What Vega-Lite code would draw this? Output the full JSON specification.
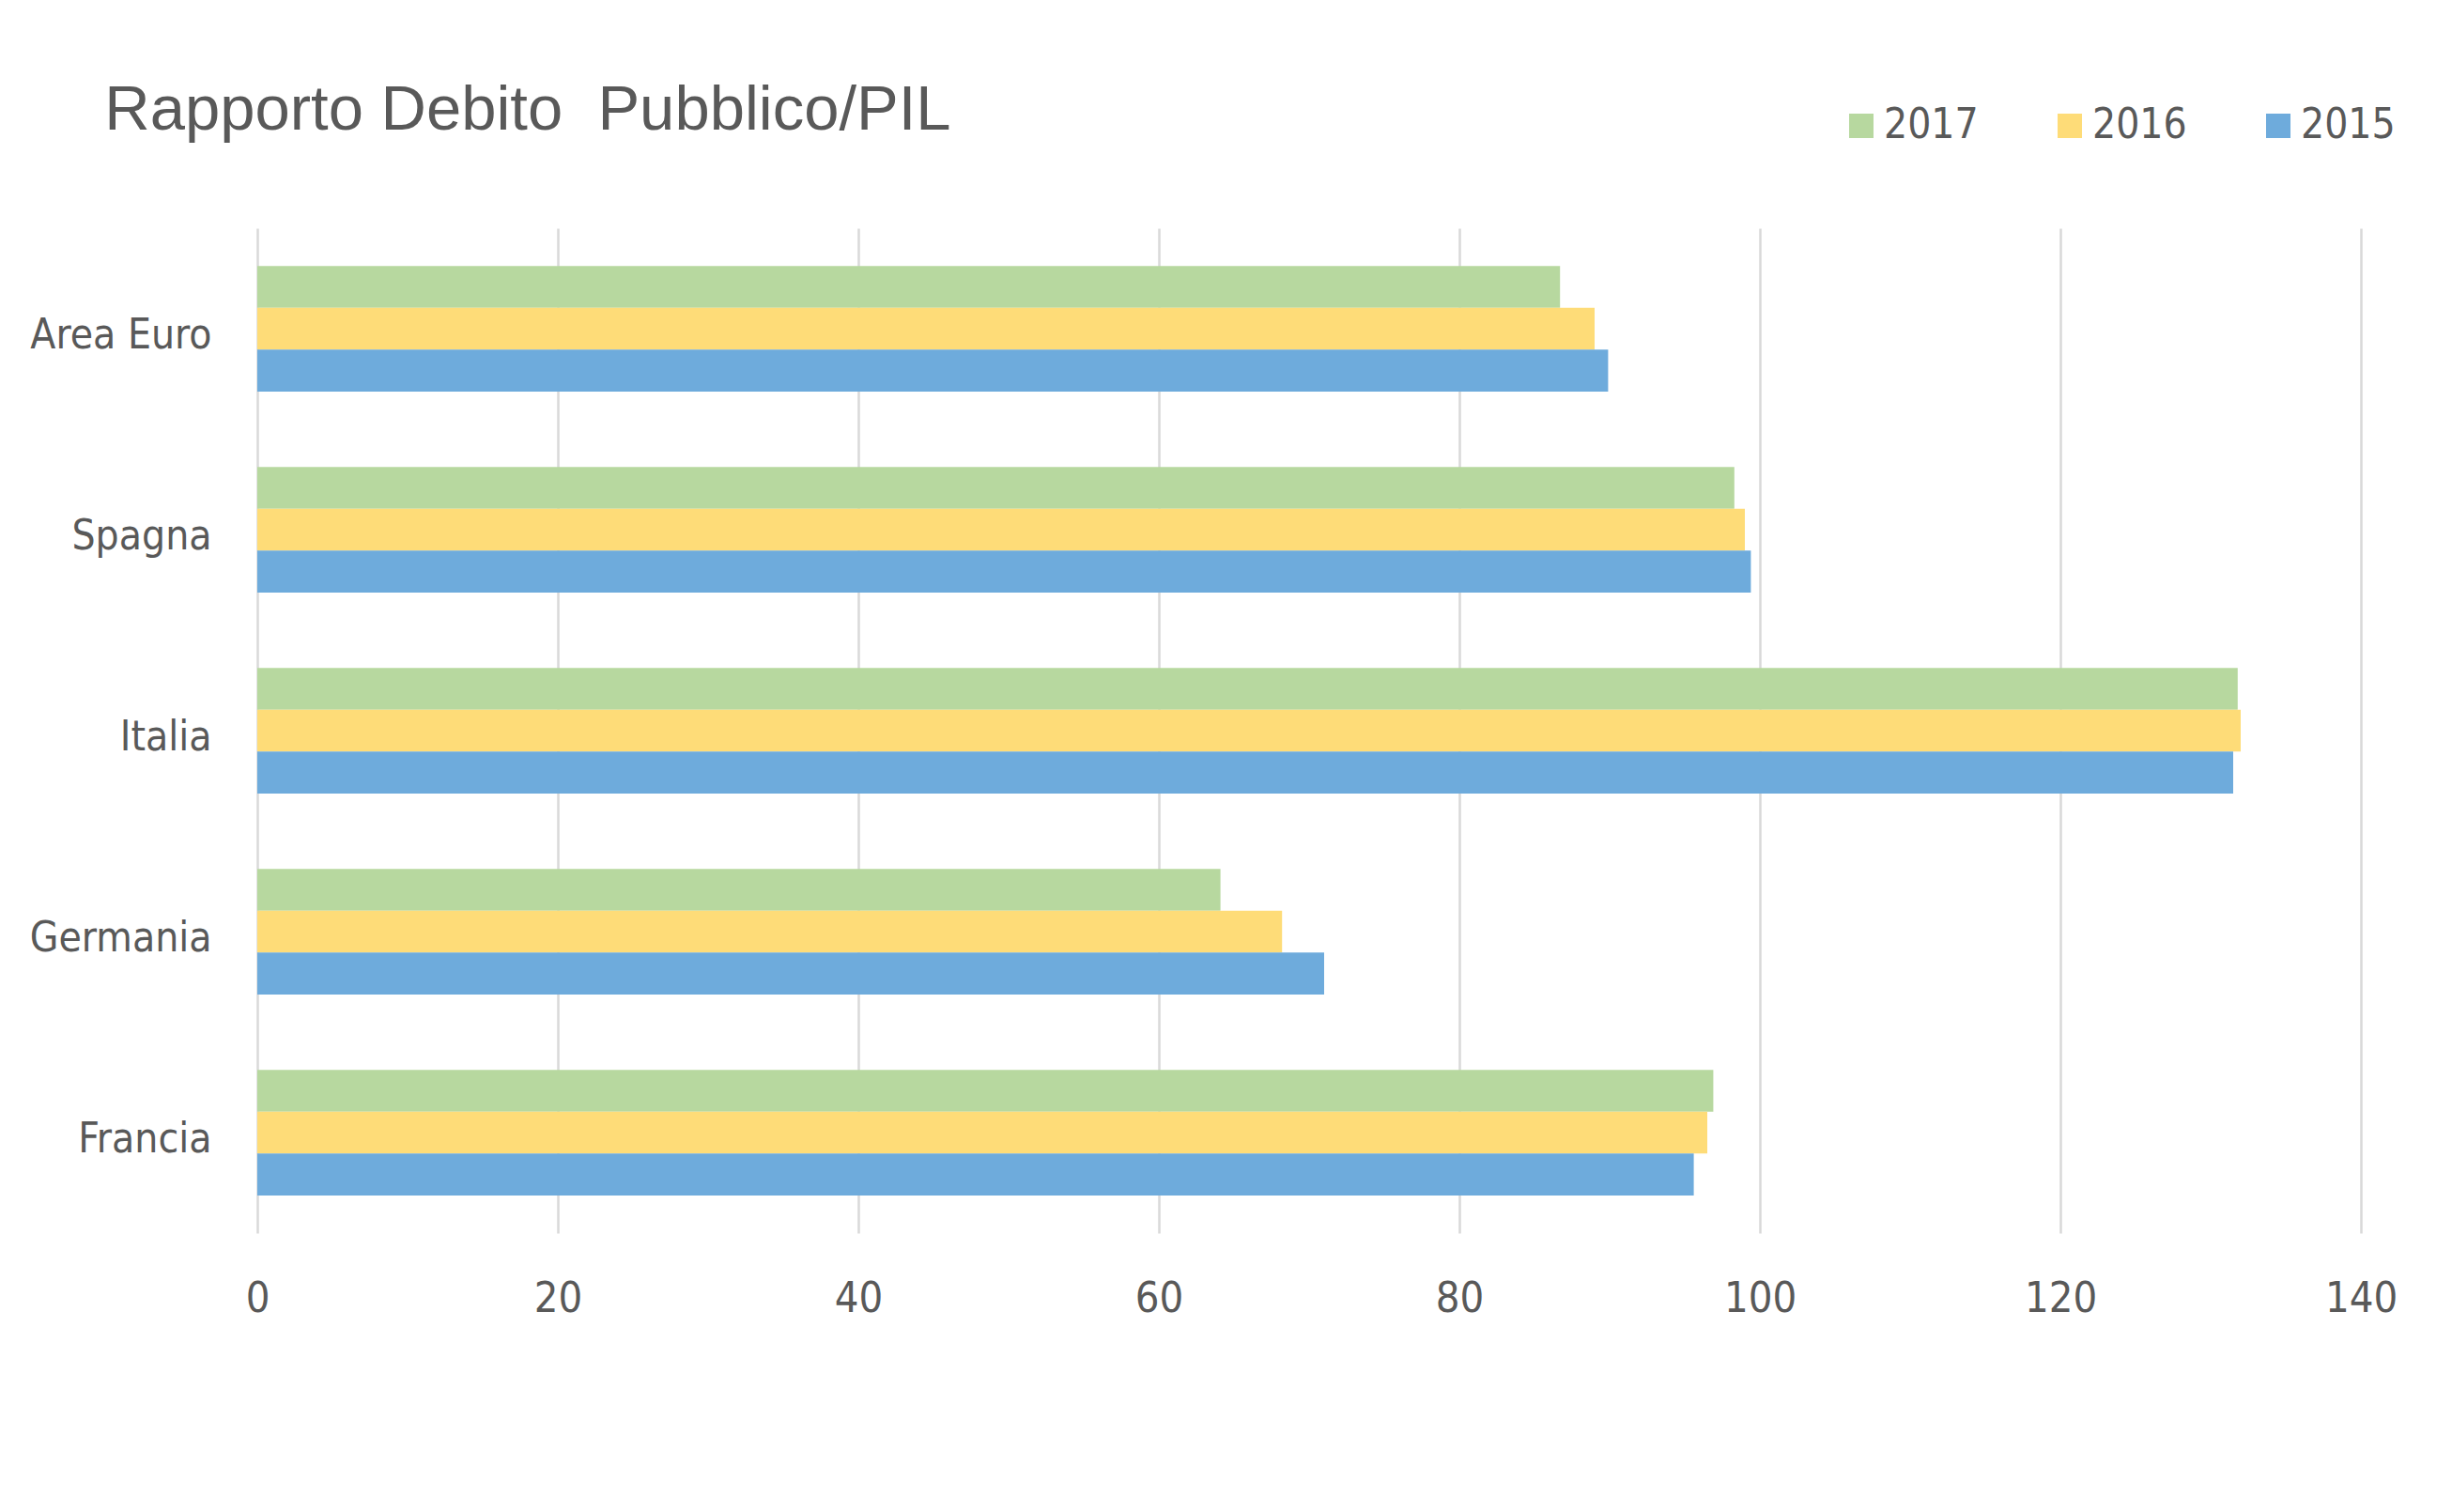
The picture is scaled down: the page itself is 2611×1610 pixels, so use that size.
{
  "$schema": "https://vega.github.io/schema/vega-lite/v6.json",
  "width": 2240,
  "height": 1070,
  "autosize": {"type": "none"},
  "padding": {"left": 274, "top": 243, "right": 97, "bottom": 297},
  "background": "white",
  "title": {
    "text": "Rapporto Debito\u00a0 Pubblico/PIL",
    "anchor": "start",
    "dx": 80,
    "dy": 40,
    "fontSize": 67,
    "font": "Liberation Sans",
    "fontWeight": "normal",
    "color": "#595959",
    "offset": 0
  },
  "data": {
    "values": [
      {"paese": "Area Euro", "anno": "2017", "valore": 86.7},
      {"paese": "Area Euro", "anno": "2016", "valore": 89.0},
      {"paese": "Area Euro", "anno": "2015", "valore": 89.9},
      {"paese": "Spagna", "anno": "2017", "valore": 98.3},
      {"paese": "Spagna", "anno": "2016", "valore": 99.0},
      {"paese": "Spagna", "anno": "2015", "valore": 99.4},
      {"paese": "Italia", "anno": "2017", "valore": 131.8},
      {"paese": "Italia", "anno": "2016", "valore": 132.0},
      {"paese": "Italia", "anno": "2015", "valore": 131.5},
      {"paese": "Germania", "anno": "2017", "valore": 64.1},
      {"paese": "Germania", "anno": "2016", "valore": 68.2},
      {"paese": "Germania", "anno": "2015", "valore": 71.0},
      {"paese": "Francia", "anno": "2017", "valore": 96.9},
      {"paese": "Francia", "anno": "2016", "valore": 96.5},
      {"paese": "Francia", "anno": "2015", "valore": 95.6}
    ]
  },
  "mark": {"type": "bar"},
  "encoding": {
    "x": {
      "field": "valore",
      "type": "quantitative",
      "scale": {"domain": [0, 140], "nice": false},
      "axis": {
        "values": [0, 20, 40, 60, 80, 100, 120, 140],
        "title": null,
        "grid": true,
        "gridColor": "#D9D9D9",
        "gridWidth": 2.5,
        "domain": false,
        "ticks": false,
        "labelFlush": false,
        "labelFontSize": 45,
        "labelFont": "Liberation Sans Narrow, DejaVu Sans Condensed, Liberation Sans",
        "labelColor": "#595959",
        "labelPadding": 47
      }
    },
    "y": {
      "field": "paese",
      "type": "nominal",
      "sort": ["Area Euro", "Spagna", "Italia", "Germania", "Francia"],
      "scale": {"paddingInner": 0.375, "paddingOuter": 0.1875},
      "axis": {
        "title": null,
        "domain": false,
        "ticks": false,
        "grid": false,
        "labelFontSize": 44,
        "labelLimit": 400,
        "labelOffset": 8,
        "labelFont": "Liberation Sans Narrow, DejaVu Sans Condensed, Liberation Sans",
        "labelColor": "#595959",
        "labelPadding": 49
      }
    },
    "yOffset": {
      "field": "anno",
      "type": "nominal",
      "sort": ["2017", "2016", "2015"],
      "scale": {"paddingInner": 0, "paddingOuter": 0}
    },
    "color": {
      "field": "anno",
      "type": "nominal",
      "scale": {"domain": ["2017", "2016", "2015"], "range": ["#B7D89F", "#FEDC78", "#6EABDC"]},
      "legend": {
        "orient": "none",
        "direction": "horizontal",
        "legendX": 1686,
        "legendY": -131,
        "title": null,
        "symbolType": "square",
        "symbolSize": 676,
        "symbolStrokeWidth": 0,
        "labelFontSize": 44,
        "labelFont": "Liberation Sans Narrow, DejaVu Sans Condensed, Liberation Sans",
        "labelColor": "#595959",
        "labelOffset": 2,
        "columnPadding": 75
      }
    }
  },
  "config": {"view": {"stroke": null}}
}
